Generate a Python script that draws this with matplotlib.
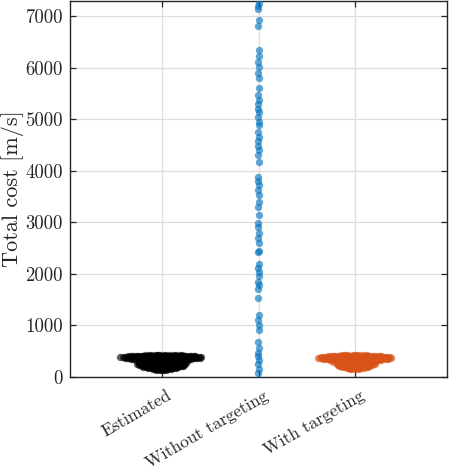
import numpy as np
import matplotlib
matplotlib.use("Agg")
import matplotlib.pyplot as plt
import matplotlib.transforms as mtransforms

# categories and colours
categories = ["Estimated", "Without targeting", "With targeting"]
colors = ["#000000", "#0072BD", "#D95319"]

# Estimated: cost value [m/s] and number of runs at that value (read from the swarm)
est_values = [420, 400, 380, 360, 340, 320, 300, 280, 260, 240, 220, 200, 180, 160, 140]
est_counts = [14, 34, 40, 34, 22, 18, 20, 20, 20, 20, 18, 16, 12, 8, 5]

# Without targeting: individual runs
without_values = [7250, 7200, 7140, 6920, 6800, 6340, 6230, 6110, 6010, 5900, 5800,
                  5600, 5470, 5380, 5300, 5200, 5130, 5050, 4950, 4890, 4750, 4650,
                  4570, 4480, 4400, 4300, 4170, 3880, 3800, 3720, 3630, 3530, 3400,
                  3300, 3140, 2990, 2900, 2800, 2700, 2600, 2450, 2420, 2200, 2120,
                  2030, 1950, 1850, 1780, 1700, 1530, 1200, 1100, 1000, 910, 680,
                  560, 470, 400, 330, 250, 150, 80]

# With targeting: cost value and count
with_values = [420, 400, 380, 360, 340, 320, 300, 280, 260, 240, 220, 200, 180, 160]
with_counts = [10, 26, 32, 34, 28, 20, 16, 16, 16, 16, 14, 12, 8, 4]

groups = [
    np.repeat(est_values, est_counts).astype(float),
    np.array(without_values, dtype=float),
    np.repeat(with_values, with_counts).astype(float),
]


def density(vals, bw=22.0):
    d = vals[:, None] - vals[None, :]
    return np.exp(-0.5 * (d / bw) ** 2).sum(axis=1)


# density jitter (like a swarm chart), scaled over all groups
dens = [density(g) for g in groups]
max_dens = max(d.max() for d in dens)
half_width = 0.43

fig = plt.figure(figsize=(4.49, 4.72), dpi=100)
ax = fig.add_axes([70 / 449, 95 / 472, 377 / 449, 376.5 / 472])

for i, (vals, d) in enumerate(zip(groups, dens)):
    order = np.argsort(vals)
    u = np.empty(len(vals))
    u[order] = (np.arange(len(vals)) * 0.6180339887) % 1.0 * 2 - 1
    x = (i + 1) + half_width * d / max_dens * u
    ax.scatter(x, vals, s=28, color=colors[i], alpha=0.62, linewidths=0, zorder=3)

ax.set_xlim(0.05, 3.95)
ax.set_ylim(0, 7300)
ax.set_xticks([1, 2, 3])
ax.set_xticklabels([])

# rotated category labels, placed at the tick positions
trans = mtransforms.blended_transform_factory(ax.transData, ax.transAxes)
trans = trans + mtransforms.ScaledTranslation(4.5 / 100, -11 / 100, fig.dpi_scale_trans)
for i, cat in enumerate(categories):
    ax.text(i + 1, 0, cat, transform=trans, rotation=30, ha="right", va="top",
            rotation_mode="anchor", fontfamily="cmr10", fontsize=12.5, color="#262626")

ax.set_yticks(range(0, 7001, 1000))
for lab in ax.get_yticklabels():
    lab.set_fontfamily("cmr10")
    lab.set_fontsize(13.5)
    lab.set_color("#262626")
ax.set_ylabel("Total cost [m/s]", fontfamily="cmr10", fontsize=16, color="#262626", labelpad=1)

ax.grid(True, color="#dedede", linewidth=0.9, zorder=0)
ax.set_axisbelow(True)
ax.tick_params(direction="in", length=4, width=0.9, top=True, right=True, colors="#262626", pad=5)
for sp in ax.spines.values():
    sp.set_color("#262626")
    sp.set_linewidth(1.0)

fig.savefig("out.png", dpi=100)
